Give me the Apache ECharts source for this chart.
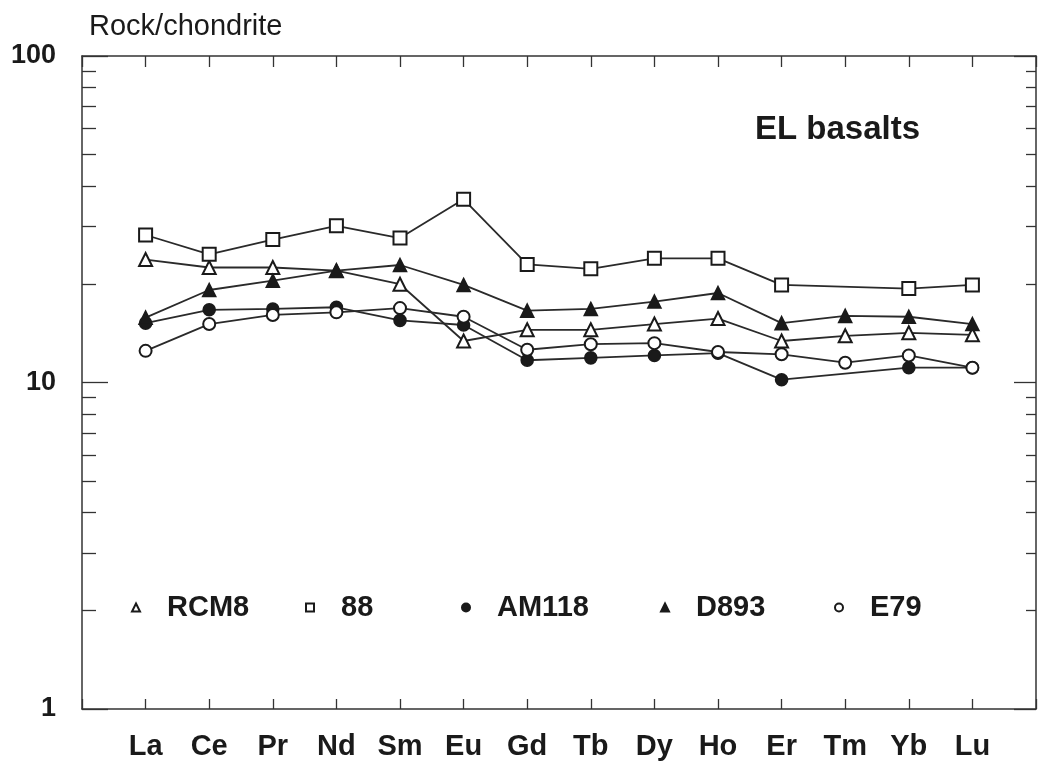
<!DOCTYPE html>
<html>
<head>
<meta charset="utf-8">
<title>EL basalts REE</title>
<script src="https://cdn.jsdelivr.net/npm/echarts@6/dist/echarts.min.js"></script>
<style>
  html, body { margin: 0; padding: 0; background: #fff; }
  #chart { width: 1039px; height: 762px; }
</style>
</head>
<body>
<div id="chart"></div>
<script>
// REE patterns, chondrite-normalised
const categories = ['La', 'Ce', 'Pr', 'Nd', 'Sm', 'Eu', 'Gd', 'Tb', 'Dy', 'Ho', 'Er', 'Tm', 'Yb', 'Lu'];
const yTickLabels = [1, 10, 100];

const rcm8  = [23.8, 22.5, 22.5, 22.0, 20.0, 13.4, 14.5, 14.5, 15.1, 15.7, 13.4, 13.9, 14.2, 14.0];
const s88   = [28.3, 24.7, 27.4, 30.2, 27.7, 36.4, 23.0, 22.3, 24.0, 24.0, 19.9, null, 19.4, 19.9];
const am118 = [15.2, 16.7, 16.8, 17.0, 15.5, 15.0, 11.7, 11.9, 12.1, 12.3, 10.2, null, 11.1, 11.1];
const d893  = [15.8, 19.2, 20.5, 22.0, 22.9, 19.9, 16.6, 16.8, 17.7, 18.8, 15.2, 16.0, 15.9, 15.1];
const e79   = [12.5, 15.1, 16.1, 16.4, 16.9, 15.9, 12.6, 13.1, 13.2, 12.4, 12.2, 11.5, 12.1, 11.1];

const FONT = "'Liberation Sans', Arial, sans-serif";
const INK = '#1a1a1a';

function makeSeries(name, values, symbol, size) {
  return {
    name: name,
    type: 'line',
    data: values.map((v, i) => [i + 1, v]),
    symbol: symbol,
    symbolSize: size,
    connectNulls: true,
    lineStyle: { color: '#2a2a2a', width: 1.8 },
    itemStyle: { color: INK, borderColor: INK, borderWidth: 1.6 },
    emphasis: { disabled: true }
  };
}

// one legend per entry so each can sit where the original puts it
function makeLegend(name, icon, iconX) {
  return {
    data: [{ name: name, icon: icon }],
    left: iconX - 4,
    top: 593,
    padding: 0,
    itemWidth: 8,
    itemHeight: 8,
    selectedMode: false,
    formatter: '{t|{name}}',
    textStyle: {
      rich: {
        t: { fontFamily: FONT, fontSize: 29, fontWeight: 'bold', color: INK, padding: [0, 0, 0, 22] }
      }
    }
  };
}

const axisLine = { show: true, onZero: false, lineStyle: { color: '#333', width: 1.5 } };
const tickLine = { color: '#333', width: 1.3 };

const chart = echarts.init(document.getElementById('chart'));

const option = {
  animation: false,
  backgroundColor: '#fff',
  title: [
    {
      text: 'Rock/chondrite',
      left: 89, top: 12, padding: 0,
      textStyle: { fontFamily: FONT, fontSize: 29, fontWeight: 'normal', color: INK }
    },
    {
      text: 'EL basalts',
      left: 755, top: 113, padding: 0,
      textStyle: { fontFamily: FONT, fontSize: 33, fontWeight: 'bold', color: INK }
    }
  ],
  legend: [
    makeLegend('RCM8', 'emptyTriangle', 135),
    makeLegend('88', 'emptyRect', 309),
    makeLegend('AM118', 'circle', 465),
    makeLegend('D893', 'triangle', 664),
    makeLegend('E79', 'emptyCircle', 838)
  ],
  grid: { left: 82, right: 3, top: 56, bottom: 53, containLabel: false },
  xAxis: [
    {
      type: 'value', min: 0, max: 15, interval: 1,
      position: 'bottom',
      axisLine: axisLine,
      axisTick: { inside: true, length: 10, lineStyle: tickLine },
      axisLabel: {
        margin: 23,
        fontFamily: FONT, fontSize: 29, fontWeight: 'bold', color: INK,
        formatter: (v) => categories[v - 1] || ''
      },
      splitLine: { show: false }
    },
    {
      type: 'value', min: 0, max: 15, interval: 1,
      position: 'top',
      axisLine: axisLine,
      axisTick: { inside: true, length: 11, lineStyle: tickLine },
      axisLabel: { show: false },
      splitLine: { show: false }
    }
  ],
  yAxis: [
    {
      type: 'log', logBase: 10, min: 1, max: 100,
      position: 'left',
      axisLine: axisLine,
      axisTick: { inside: true, length: 26, lineStyle: tickLine },
      minorTick: { show: true, splitNumber: 9, length: 14, lineStyle: tickLine },
      axisLabel: {
        margin: 26,
        fontFamily: FONT, fontSize: 27, fontWeight: 'bold', color: INK,
        formatter: (v) => (yTickLabels.indexOf(v) >= 0 ? String(v) : '')
      },
      splitLine: { show: false }
    },
    {
      type: 'log', logBase: 10, min: 1, max: 100,
      position: 'right',
      axisLine: axisLine,
      axisTick: { inside: true, length: 22, lineStyle: tickLine },
      minorTick: { show: true, splitNumber: 9, length: 10, lineStyle: tickLine },
      axisLabel: { show: false },
      splitLine: { show: false }
    }
  ],
  series: [
    makeSeries('RCM8', rcm8, 'emptyTriangle', 13),
    makeSeries('88', s88, 'emptyRect', 13),
    makeSeries('AM118', am118, 'circle', 12),
    makeSeries('D893', d893, 'triangle', 13),
    makeSeries('E79', e79, 'emptyCircle', 12)
  ]
};

chart.setOption(option);
</script>
</body>
</html>
